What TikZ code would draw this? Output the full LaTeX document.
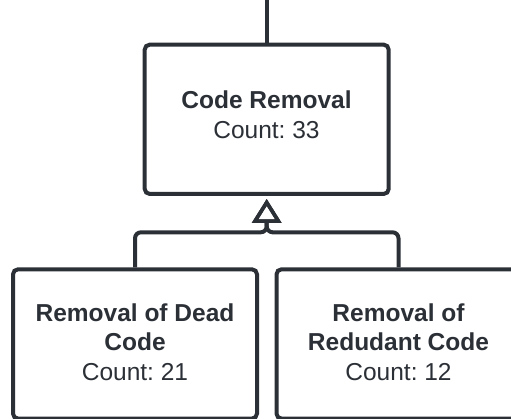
\documentclass[tikz,border=0pt]{standalone}
\usepackage{fontspec}
\setmainfont{Liberation Sans}
\usetikzlibrary{arrows.meta}
\definecolor{ink}{HTML}{2B2F36}
\frenchspacing
\tikzset{
  box/.style={draw=ink, fill=white, line width=4pt, rounded corners=5pt,
    minimum width=244pt, minimum height=149.3pt, inner sep=0pt},
  txt/.style={anchor=base, text=ink, inner sep=0pt,
    font=\fontsize{24.5}{29.5}\selectfont},
  conn/.style={draw=ink, line width=4pt, rounded corners=6pt},
  gen/.style={-{Triangle[open, length=24pt, width=29pt, line width=3.6pt]}, shorten >=3pt}
}
\begin{document}
\begin{tikzpicture}[x=1pt, y=-1pt]
  \useasboundingbox (0,0) rectangle (511,418);
  \clip (0,0) rectangle (511,418);
  % class boxes
  \node[box] (top)  at (266.7,119.3) {};
  \node[box] (dead) at (135,343.95) {};
  \node[box] (red)  at (398.5,343.95) {};
  % box texts
  \node[txt] (top1) at (266.5,108.3) {\textbf{Code Removal}};
  \node[txt] (top2) at (266.5,138.3) {Count: 33};
  \node[txt] (dead1) at (135,321) {\textbf{Removal of Dead}};
  \node[txt] (dead2) at (135,350.5) {\textbf{Code}};
  \node[txt] (dead3) at (135,380) {Count: 21};
  \node[txt] (red1) at (398.5,321) {\textbf{Removal of}};
  \node[txt] (red2) at (398.5,350.5) {\textbf{Redudant Code}};
  \node[txt] (red3) at (398.5,380) {Count: 12};
  % incoming edge from above
  \coordinate (up) at (266.7,-5);
  \draw[conn] (top.north) -- (up);
  % generalisation edges
  \coordinate (mid) at (266.7,232.3);
  \draw[conn, gen] (dead.north) |- (mid) -- (top.south);
  \draw[conn, gen] (red.north) |- (mid) -- (top.south);
\end{tikzpicture}
\end{document}
